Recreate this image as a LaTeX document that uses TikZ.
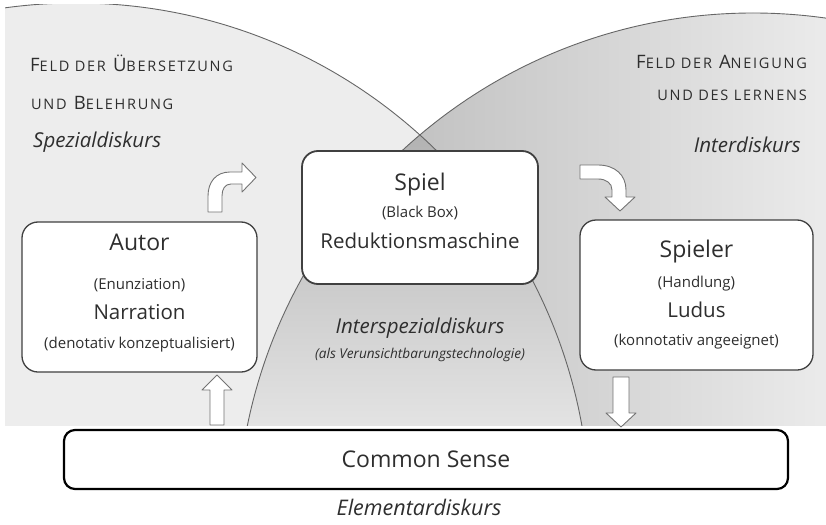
\documentclass[tikz,border=0pt]{standalone}
\usepackage{fontspec}
\setmainfont{Open Sans}

\newcommand\kl[1]{{\fontsize{14.5}{14.5}\selectfont #1}}

\tikzset{
    feld/.style={inner sep=0pt, text=black!82, font=\fontsize{18.5}{20}\selectfont\addfontfeature{LetterSpace=12}},
    diskurs/.style={inner sep=0pt, text=black!82, font=\fontsize{20.5}{24}\selectfont\itshape},
    kasten/.style={draw=black!75, line width=1.3pt, rounded corners=16pt, fill=white, inner sep=0pt},
    titel/.style={inner sep=0pt, anchor=base, text=black!82, font=\fontsize{23}{26}\selectfont},
    zeile/.style={inner sep=0pt, anchor=base, text=black!82, font=\fontsize{20.5}{24}\selectfont},
    klammer/.style={inner sep=0pt, anchor=base, text=black!82, font=\fontsize{15}{18}\selectfont},
    bogen/.style={draw=black!60, line width=0.9pt},
    pfeil/.style={draw=black!55, line width=0.9pt, fill=white, line join=round},
}

\begin{document}
\begin{tikzpicture}[x=1pt, y=-1pt]
    \useasboundingbox (0,0) rectangle (826,524);

    % Felder
    \begin{scope}
        \clip (5,5) rectangle (826,425);
        \fill[black!7] (76,517) circle[radius=514pt];
        \begin{scope}
            \clip (753,529) circle[radius=516pt];
            \shade[left color=black!28, right color=black!8] (300,5) rectangle (826,425);
            \clip (76,517) circle[radius=514pt];
            \shade[top color=black!30, bottom color=black!11] (240,135) rectangle (600,425);
        \end{scope}
        \draw[bogen] (76,517) circle[radius=514pt];
        \draw[bogen] (753,529) circle[radius=516pt];
    \end{scope}

    \node[feld, anchor=base west] (uebersetzung) at (30,72) {F\kl{ELD DER} Ü\kl{BERSETZUNG}};
    \node[feld, anchor=base west] (belehrung) at (31,110) {\kl{UND} B\kl{ELEHRUNG}};
    \node[diskurs, anchor=base west] (spezial) at (33,147) {Spezialdiskurs};

    \node[feld, anchor=base east] (aneigung) at (807,69) {F\kl{ELD DER} A\kl{NEIGUNG}};
    \node[feld, anchor=base east] (lernen) at (807,100) {\kl{UND DES LERNENS}};
    \node[diskurs, anchor=base east] (inter) at (801,152) {Interdiskurs};

    \node[diskurs, anchor=base] (interspezial) at (420,333) {Interspezialdiskurs};
    \node[inner sep=0pt, anchor=base, text=black!82, font=\fontsize{13.6}{16}\selectfont\itshape] (technologie) at (420,358) {(als Verunsichtbarungstechnologie)};

    % Kaesten
    \node[kasten, minimum width=235pt, minimum height=150pt] (autor) at (139.5,297) {};
    \node[kasten, line width=1.8pt, minimum width=236pt, minimum height=133pt] (spiel) at (420,217.5) {};
    \node[kasten, minimum width=233pt, minimum height=150pt] (spieler) at (696.5,295) {};
    \node[kasten, draw=black, line width=2.2pt, rounded corners=11pt, minimum width=724pt, minimum height=59pt,
        text=black!82, font=\fontsize{23}{26}\selectfont] (common) at (426,459.5) {Common Sense};

    \node[titel] (autor-titel) at (139.5,250) {Autor};
    \node[klammer] (enunziation) at (139.5,289) {(Enunziation)};
    \node[zeile] (narration) at (139.5,319) {Narration};
    \node[klammer] (denotativ) at (139.5,348) {(denotativ konzeptualisiert)};

    \node[titel] (spiel-titel) at (420,190) {Spiel};
    \node[klammer] (blackbox) at (420,217) {(Black Box)};
    \node[zeile] (reduktion) at (420,248) {Reduktionsmaschine};

    \node[titel] (spieler-titel) at (696.5,257) {Spieler};
    \node[klammer] (handlung) at (696.5,287) {(Handlung)};
    \node[zeile] (ludus) at (696.5,317) {Ludus};
    \node[klammer] (konnotativ) at (696.5,345) {(konnotativ angeeignet)};

    \node[diskurs, anchor=base, font=\fontsize{21.5}{24}\selectfont\itshape] (elementar) at (419,515) {Elementardiskurs};

    % Pfeile
    \draw[pfeil] (208,212) -- (208,196) .. controls (208,182) and (216,172) .. (230,172) -- (242,172) -- (242,163)
        -- (256,177.5) -- (242,192) -- (242,184) -- (231,184) .. controls (225,184) and (222,189) .. (222,196) -- (222,212) -- cycle;
    \draw[pfeil] (580,165) -- (598,165) .. controls (615,165) and (626,175) .. (626,190) -- (626,197) -- (635,197)
        -- (620,211) -- (605,197) -- (612,197) -- (612,190) .. controls (612,183) and (606,179) .. (598,179) -- (580,179) -- cycle;
    \draw[pfeil] (210,425) -- (210,390) -- (202,390) -- (217,375) -- (232,390) -- (224,390) -- (224,425) -- cycle;
    \draw[pfeil] (613,377) -- (629,377) -- (629,413) -- (636,413) -- (621,427) -- (606,413) -- (613,413) -- cycle;
\end{tikzpicture}
\end{document}
